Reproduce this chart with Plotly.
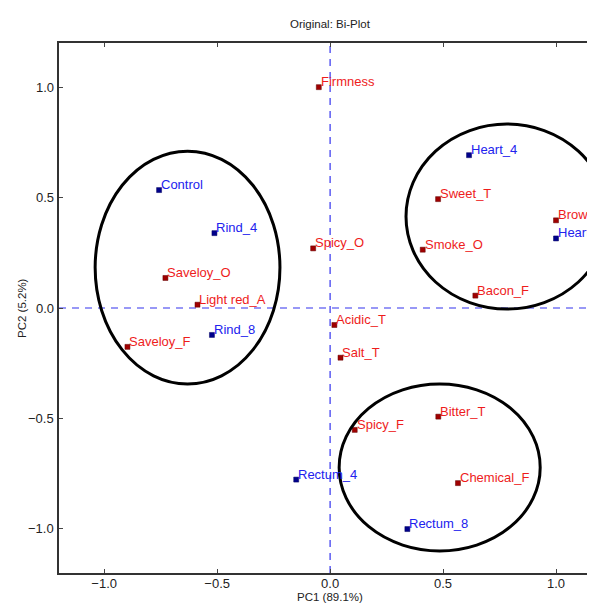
import plotly.graph_objects as go

# ---- data ----
attr_names = ["Firmness", "Spicy_O", "Brown", "Sweet_T", "Smoke_O", "Bacon_F",
              "Saveloy_O", "Light red_A", "Saveloy_F", "Acidic_T", "Salt_T",
              "Bitter_T", "Spicy_F", "Chemical_F"]
attr_pc1 = [-0.05, -0.075, 1.0, 0.478, 0.410, 0.643, -0.729, -0.587, -0.897,
            0.019, 0.046, 0.479, 0.109, 0.566]
attr_pc2 = [1.0, 0.27, 0.397, 0.493, 0.264, 0.056, 0.136, 0.015, -0.176,
            -0.077, -0.225, -0.492, -0.552, -0.793]

sample_names = ["Heart_4", "Heart_8", "Control", "Rind_4", "Rind_8", "Rectum_4", "Rectum_8"]
sample_pc1 = [0.615, 1.0, -0.757, -0.512, -0.523, -0.150, 0.342]
sample_pc2 = [0.692, 0.315, 0.534, 0.339, -0.122, -0.777, -1.001]

# cluster ellipses: (center x, center y, radius x, radius y)
ellipses = [(-0.631, 0.183, 0.409, 0.527),
            (0.783, 0.414, 0.447, 0.419),
            (0.485, -0.722, 0.445, 0.378)]

x_ticks = [-1.0, -0.5, 0.0, 0.5, 1.0]
y_ticks = [-1.0, -0.5, 0.0, 0.5, 1.0]
tick_text = ["\u22121.0", "\u22120.5", "0.0", "0.5", "1.0"]

FONT = "Liberation Sans, Arial, sans-serif"
RED_TXT = "#ee1c1c"
BLUE_TXT = "#2222ee"

fig = go.Figure()

fig.add_trace(go.Scatter(
    x=attr_pc1, y=attr_pc2, mode="markers",
    marker=dict(symbol="square", size=5, color="#a00000",
                line=dict(color="#600000", width=0.5)),
    cliponaxis=False, showlegend=False, hoverinfo="text", text=attr_names))

fig.add_trace(go.Scatter(
    x=sample_pc1, y=sample_pc2, mode="markers",
    marker=dict(symbol="square", size=5, color="#00008b",
                line=dict(color="#000060", width=0.5)),
    cliponaxis=False, showlegend=False, hoverinfo="text", text=sample_names))

annotations = []
for names, xs, ys, col in [(attr_names, attr_pc1, attr_pc2, RED_TXT),
                           (sample_names, sample_pc1, sample_pc2, BLUE_TXT)]:
    for n, xv, yv in zip(names, xs, ys):
        annotations.append(dict(text=n, x=xv, y=yv, xref="x", yref="y",
                                xanchor="left", yanchor="bottom",
                                xshift=1, yshift=-3, borderpad=0,
                                showarrow=False,
                                font=dict(family=FONT, size=13, color=col)))

# y tick labels placed on the y scale, right-aligned close to the axis
for yv, lab in zip(y_ticks, tick_text):
    annotations.append(dict(text=lab, x=-4 / 536, y=yv, xref="paper", yref="y",
                            xanchor="right", yanchor="middle", borderpad=0,
                            showarrow=False,
                            font=dict(family=FONT, size=13, color="#222")))

annotations += [
    dict(text="Original: Bi-Plot", xref="paper", yref="paper",
         x=(330 - 59) / 536, y=1 + 19 / 530, xanchor="center", yanchor="middle",
         showarrow=False, font=dict(family=FONT, size=11.5, color="#222222")),
    dict(text="PC1 (89.1%)", xref="paper", yref="paper",
         x=(330 - 59) / 536, y=-24 / 530, xanchor="center", yanchor="middle",
         showarrow=False, font=dict(family=FONT, size=11.5, color="#222222")),
    dict(text="PC2 (5.2%)", xref="paper", yref="paper", textangle=-90,
         x=-37 / 536, y=0.5, xanchor="center", yanchor="middle",
         showarrow=False, font=dict(family=FONT, size=11.5, color="#222222")),
]

shapes = []
shapes.append(dict(type="line", xref="x", yref="paper", x0=0, x1=0, y0=0, y1=1,
                   line=dict(color="#3333ee", width=1.2, dash="7px,6px"), layer="below"))
shapes.append(dict(type="line", xref="paper", yref="y", x0=0, x1=1, y0=0, y1=0,
                   line=dict(color="#3333ee", width=1.2, dash="7px,6px"), layer="below"))
for cx, cy, rx, ry in ellipses:
    shapes.append(dict(type="circle", xref="x", yref="y",
                       x0=cx - rx, x1=cx + rx, y0=cy - ry, y1=cy + ry,
                       line=dict(color="black", width=3)))

fig.update_layout(
    width=587, height=599,
    margin=dict(l=51, r=0, t=35, b=34),
    paper_bgcolor="white", plot_bgcolor="white",
    shapes=shapes, annotations=annotations,
    font=dict(family=FONT, size=12, color="#222222"),
)

fig.update_xaxes(range=[-1.2, (595 - 330) / 226], tickvals=x_ticks, ticktext=tick_text,
                 ticks="inside", ticklen=4, tickcolor="#444", showline=True,
                 linecolor="#333", linewidth=2, mirror="ticks",
                 showgrid=False, zeroline=False, ticklabelstandoff=-3,
                 tickfont=dict(family=FONT, size=13, color="#222"))
fig.update_yaxes(range=[-1.2, 1.2], tickvals=y_ticks, showticklabels=False,
                 ticks="inside", ticklen=4, tickcolor="#444", showline=True,
                 linecolor="#333", linewidth=2, mirror=False,
                 showgrid=False, zeroline=False)

fig.write_html("out.html")
